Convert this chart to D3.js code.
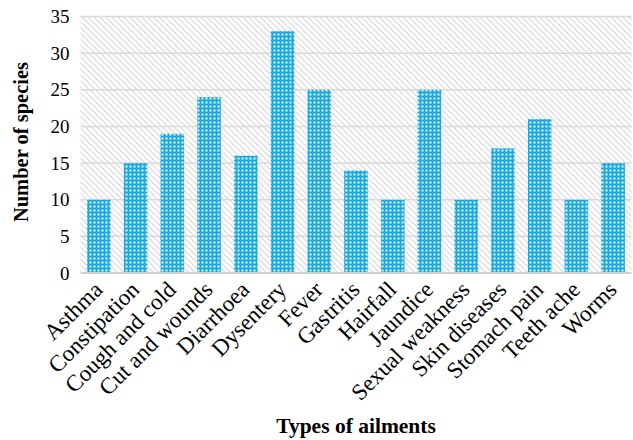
<!DOCTYPE html>
<html>
<head>
<meta charset="utf-8">
<script src="https://cdn.jsdelivr.net/npm/d3@7"></script>
<style>
  html, body { margin: 0; padding: 0; background: #fff; }
  svg { display: block; font-family: "Liberation Serif", "Times New Roman", serif; }
</style>
</head>
<body>
<svg id="chart" width="633" height="440"></svg>
<script>
// Ailment categories and number of species used for each
const categories = ["Asthma", "Constipation", "Cough and cold", "Cut and wounds", "Diarrhoea",
  "Dysentery", "Fever", "Gastritis", "Hairfall", "Jaundice", "Sexual weakness",
  "Skin diseases", "Stomach pain", "Teeth ache", "Worms"];
const speciesCounts = [10, 15, 19, 24, 16, 33, 25, 14, 10, 25, 10, 17, 21, 10, 15];
const yTicks = [0, 5, 10, 15, 20, 25, 30, 35];

const svg = d3.select("#chart");
const margin = { left: 80.5, right: 1.5, top: 16.5, bottom: 167 };
const W = 633, H = 440;
const plotW = W - margin.left - margin.right;
const plotH = H - margin.top - margin.bottom;
const serif = "'Liberation Serif', 'Times New Roman', serif";

const defs = svg.append("defs");

// Light downward diagonal hatch for the plot background
const hatch = defs.append("pattern")
  .attr("id", "hatch").attr("patternUnits", "userSpaceOnUse")
  .attr("width", 4.2).attr("height", 4.2)
  .attr("patternTransform", "rotate(-45)");
hatch.append("rect").attr("width", 4.2).attr("height", 4.2).attr("fill", "#fff");
hatch.append("rect").attr("x", 0).attr("y", 0).attr("width", 1.4).attr("height", 4.2).attr("fill", "#dedede");

// Blue fill with a fine grid of white dots for the bars
const dots = defs.append("pattern")
  .attr("id", "dots").attr("patternUnits", "userSpaceOnUse")
  .attr("width", 4).attr("height", 4);
dots.append("rect").attr("width", 4).attr("height", 4).attr("fill", "#1ba8e3");
dots.append("rect").attr("x", 1).attr("y", 1).attr("width", 2).attr("height", 2).attr("fill", "#e8f7fe");

const g = svg.append("g").attr("transform", `translate(${margin.left},${margin.top})`);

const x = d3.scaleBand().domain(categories).range([0, plotW]).paddingInner(0.36).paddingOuter(0.18);
const y = d3.scaleLinear().domain([0, 35]).range([plotH, 0]);

g.append("rect").attr("width", plotW).attr("height", plotH).attr("fill", "url(#hatch)");

// Horizontal gridlines
g.append("g").selectAll("line").data(yTicks.filter(d => d > 0)).join("line")
  .attr("x1", 0).attr("x2", plotW)
  .attr("y1", d => y(d)).attr("y2", d => y(d))
  .attr("stroke", "#d9d9d9").attr("stroke-width", 1.5);

// Bars
g.append("g").selectAll("rect").data(categories).join("rect")
  .attr("x", d => x(d))
  .attr("width", x.bandwidth())
  .attr("y", (d, i) => y(speciesCounts[i]))
  .attr("height", (d, i) => plotH - y(speciesCounts[i]))
  .attr("fill", "url(#dots)");

// Baseline
g.append("line").attr("x1", 0).attr("x2", plotW).attr("y1", plotH).attr("y2", plotH)
  .attr("stroke", "#d0d0d0").attr("stroke-width", 2);

// Y axis labels
const yAxis = d3.axisLeft(y).tickValues(yTicks).tickSize(0).tickPadding(11);
const yg = g.append("g").call(yAxis);
yg.select(".domain").remove();
yg.selectAll("text").attr("font-size", 19).attr("fill", "#000")
  .style("font-family", serif);

// X axis labels, rotated
const xAxis = d3.axisBottom(x).tickSize(0).tickPadding(0);
const xg = g.append("g").attr("transform", `translate(0,${plotH})`).call(xAxis);
xg.select(".domain").remove();
xg.selectAll("text")
  .attr("font-size", 23).attr("fill", "#000")
  .style("font-family", serif)
  .attr("text-anchor", "end")
  .attr("dy", 0)
  .attr("transform", "translate(5,18) rotate(-45)");

// Axis titles
svg.append("text")
  .attr("x", 356).attr("y", 433)
  .attr("text-anchor", "middle").attr("font-size", 21.5).attr("font-weight", "bold")
  .style("font-family", serif)
  .text("Types of ailments");

svg.append("text")
  .attr("transform", "translate(28,142) rotate(-90)")
  .attr("text-anchor", "middle").attr("font-size", 20.5).attr("font-weight", "bold")
  .style("font-family", serif)
  .text("Number of species");
</script>
</body>
</html>
